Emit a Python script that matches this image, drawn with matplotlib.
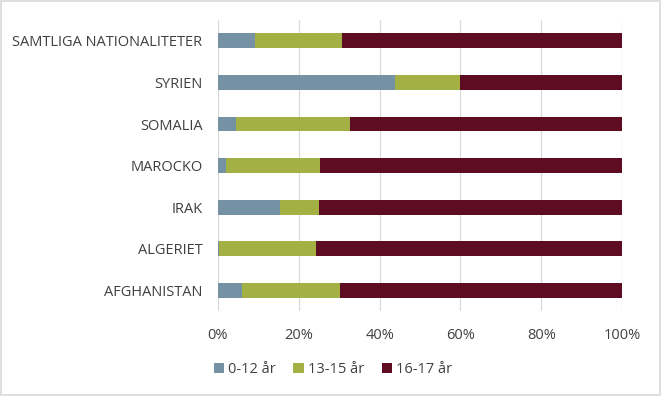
import matplotlib.pyplot as plt
from matplotlib.patches import Rectangle
import numpy as np

# andel per åldersgrupp (%), nedifrån och upp
countries = ["AFGHANISTAN", "ALGERIET", "IRAK", "MAROCKO", "SOMALIA", "SYRIEN",
             "SAMTLIGA NATIONALITETER"]
age_0_12 = [5.9, 0.4, 15.3, 2.0, 4.6, 43.8, 9.3]
age_13_15 = [24.4, 24.0, 9.7, 23.2, 28.0, 16.2, 21.5]
age_16_17 = [69.7, 75.6, 75.0, 74.8, 67.4, 40.0, 69.2]
series_labels = ["0-12 år", "13-15 år", "16-17 år"]
colors = ["#7591a4", "#a3b043", "#5e0c22"]

plt.rcParams['font.family'] = ['Open Sans', 'DejaVu Sans']

fig = plt.figure(figsize=(6.62, 3.96), dpi=100)
ax = fig.add_axes([0.329, 0.215, 0.611, 0.734])

y = np.arange(len(countries))
left = np.zeros(len(countries))
for vals, lab, col in zip([age_0_12, age_13_15, age_16_17], series_labels, colors):
    ax.barh(y, vals, left=left, height=0.36, color=col, label=lab, zorder=3)
    left += np.array(vals)

ax.set_xlim(0, 100)
ax.set_ylim(-0.5, len(countries) - 0.5)
ax.set_yticks(y)
ax.set_yticklabels(countries, fontsize=10.5, color="#404040")
ax.set_xticks(range(0, 101, 20))
ax.set_xticklabels([f"{v}%" for v in range(0, 101, 20)], fontsize=10.5, color="#404040")
ax.tick_params(axis="x", length=0, pad=12)
ax.tick_params(axis="y", length=0, pad=11)
ax.grid(axis="x", color="#d9d9d9", linewidth=0.9, zorder=0)
for s in ax.spines.values():
    s.set_visible(False)

ax.legend(loc="center", bbox_to_anchor=(0.285, -0.203), ncol=3, frameon=False,
          fontsize=10.5, handlelength=0.7, handleheight=0.7, handletextpad=0.3,
          columnspacing=1.2, labelcolor="#404040")

fig.patches.append(Rectangle((0.002, 0.003), 0.995, 0.994, transform=fig.transFigure,
                             fill=False, edgecolor="#d9d9d9", linewidth=1.2))

fig.savefig("out.png", dpi=100)
